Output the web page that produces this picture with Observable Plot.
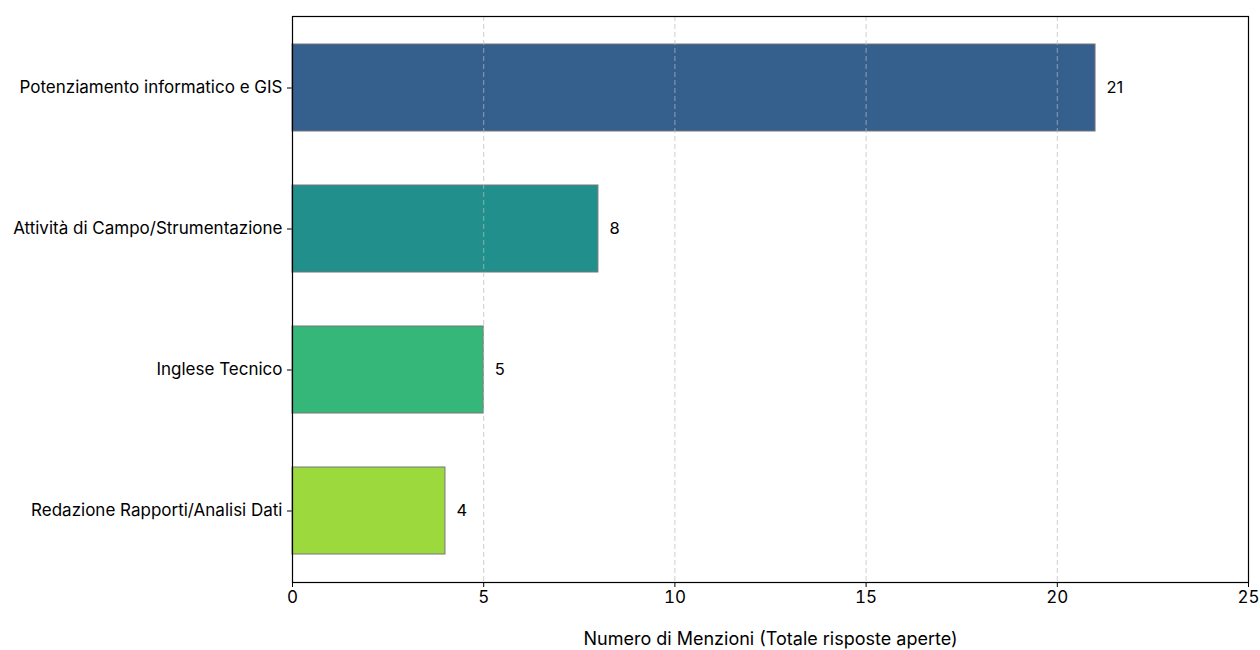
<!DOCTYPE html>
<html><head><meta charset="utf-8">
<script src="https://cdn.jsdelivr.net/npm/d3@7"></script>
<script src="https://cdn.jsdelivr.net/npm/@observablehq/plot@0.6"></script>
<style>
body{margin:0;background:#fff;}
#chart svg{font-family:Inter,sans-serif;}
</style>
</head><body><div id="chart"></div>
<script>
const categories = ["Potenziamento informatico e GIS","Attività di Campo/Strumentazione","Inglese Tecnico","Redazione Rapporti/Analisi Dati"];
const values = [21, 8, 5, 4];
const colors = ["#355f8d","#21908d","#35b779","#9bd93c"];
const xTicks = [0,5,10,15,20,25];
const xLabel = "Numero di Menzioni (Totale risposte aperte)";

const data = categories.map((c,i)=>({cat:c, val:values[i], color:colors[i]}));

const chart = Plot.plot({
  width:1260, height:650,
  marginLeft:292, marginRight:12, marginTop:16, marginBottom:68,
  style:{fontSize:"17px", color:"#000", background:"#fff"},
  x:{domain:[0,25], ticks:xTicks, tickSize:5, tickPadding:3, label:null},
  y:{domain:categories, paddingInner:0.38, paddingOuter:0.183, tickSize:5, tickPadding:5, label:null, align:0.5},
  marks:[
    Plot.barX(data,{y:"cat", x:"val", fill:"color", stroke:"#777", strokeWidth:1}),
    Plot.gridX(xTicks.filter(t=>t>0&&t<25),{stroke:"#bbb", strokeOpacity:0.7, strokeDasharray:"5,3", strokeWidth:1}),
    Plot.text(data,{y:"cat", x:"val", text:d=>String(d.val), dx:11, textAnchor:"start", fill:"#000", fontSize:16.5}),
    Plot.frame({stroke:"#000", strokeWidth:1.2}),
    Plot.text([xLabel],{frameAnchor:"bottom", dy:62, fill:"#000", fontSize:18})
  ]
});
document.getElementById("chart").appendChild(chart);
</script>
</body></html>
